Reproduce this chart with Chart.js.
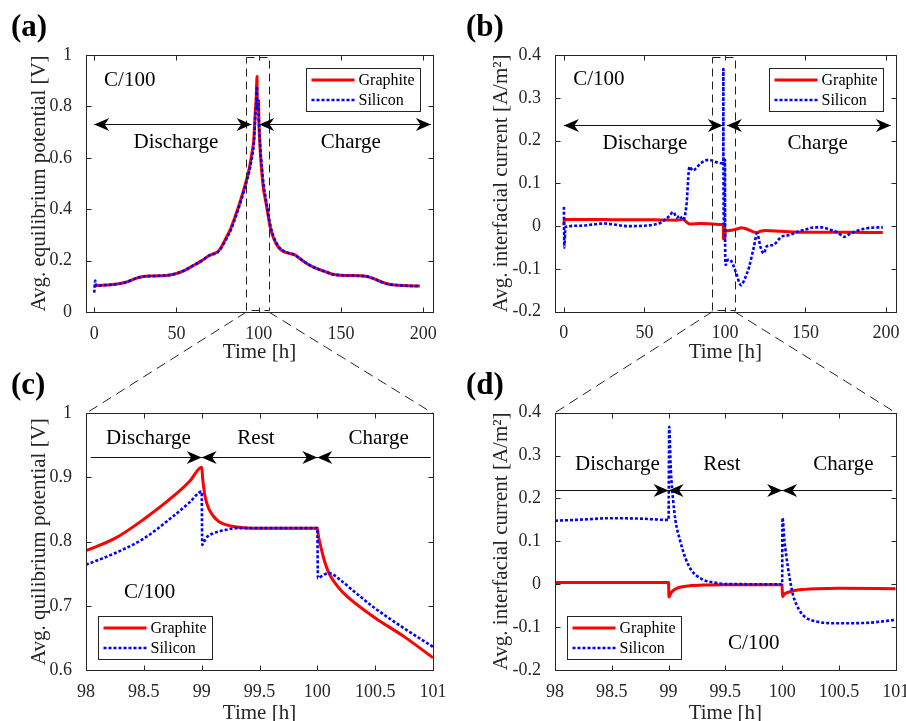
<!DOCTYPE html>
<html>
<head>
<meta charset="utf-8">
<script src="https://cdn.jsdelivr.net/npm/chart.js@4.4.1/dist/chart.umd.min.js"></script>
<style>
  body { margin: 0; background: #fff; }
  #wrap { position: relative; width: 906px; height: 721px; overflow: hidden; }
  #wrap canvas { position: absolute; }
  #links { pointer-events: none; }
</style>
</head>
<body>
<div id="wrap">
  <canvas id="panelA" width="453" height="372" style="left:0;top:0"></canvas>
  <canvas id="panelB" width="470" height="372" style="left:453px;top:0"></canvas>
  <canvas id="panelC" width="453" height="361" style="left:0;top:360px"></canvas>
  <canvas id="panelD" width="470" height="361" style="left:453px;top:360px"></canvas>
  <canvas id="links" width="906" height="721" style="left:0;top:0"></canvas>
</div>
<script>
// ---- full cycle (0-200 h) ----
const timeGraphiteEq = [0.5, 5, 10, 15, 20, 25, 30, 35, 40, 45, 50, 55, 60, 65, 70, 73, 75, 77, 80, 83,
  86, 89, 92, 94, 96, 97, 98, 98.5, 99, 99.03, 99.1, 99.3, 100, 100.03, 100.1, 100.3, 100.5, 101, 102, 103,
  104, 105, 107, 109, 112, 115, 118, 122, 125, 130, 135, 140, 145, 150, 155, 160, 165, 170, 175, 180,
  185, 190, 198];
const graphiteEq = [0.102, 0.104, 0.106, 0.110, 0.117, 0.130, 0.138, 0.140, 0.141, 0.143, 0.150, 0.162, 0.180, 0.198, 0.220, 0.228, 0.234, 0.250, 0.286, 0.325,
  0.377, 0.435, 0.500, 0.550, 0.623, 0.669, 0.786, 0.835, 0.916, 0.870, 0.840, 0.823, 0.821, 0.792, 0.751, 0.708, 0.681, 0.619, 0.535, 0.475,
  0.440, 0.405, 0.330, 0.288, 0.252, 0.236, 0.229, 0.222, 0.208, 0.186, 0.170, 0.158, 0.147, 0.143, 0.142, 0.141, 0.139, 0.130, 0.116, 0.107,
  0.104, 0.102, 0.101];

const timeSiliconEq = [0, 0.6, 1.2, 5, 10, 15, 20, 25, 30, 35, 40, 45, 50, 55, 60, 65, 70, 73, 75, 77,
  80, 83, 86, 89, 92, 94, 96, 97, 98, 98.5, 99, 99.01, 99.1, 99.3, 100, 100.01, 100.1, 100.3, 100.5, 101,
  102, 103, 104, 105, 107, 109, 112, 115, 118, 122, 125, 130, 135, 140, 145, 150, 155, 160, 165, 170,
  175, 180, 185, 190, 198];
const siliconEq = [0.075, 0.122, 0.102, 0.104, 0.106, 0.110, 0.117, 0.130, 0.138, 0.140, 0.141, 0.143, 0.150, 0.162, 0.180, 0.198, 0.220, 0.226, 0.232, 0.247,
  0.280, 0.318, 0.370, 0.428, 0.492, 0.540, 0.605, 0.650, 0.764, 0.805, 0.878, 0.795, 0.813, 0.821, 0.821, 0.743, 0.751, 0.725, 0.696, 0.636,
  0.560, 0.495, 0.455, 0.415, 0.340, 0.295, 0.256, 0.238, 0.230, 0.222, 0.208, 0.186, 0.170, 0.158, 0.147, 0.143, 0.142, 0.141, 0.139, 0.130,
  0.116, 0.107, 0.104, 0.102, 0.101];

const timeGraphiteCur = [0, 0.3, 10, 20, 30, 40, 50, 60, 70, 72, 74, 76, 78, 85, 92, 98, 99, 99.01, 99.1, 99.3,
  100, 100.01, 100.1, 100.5, 101, 105, 108, 110, 112, 115, 118, 120, 122, 125, 135, 150, 175, 198];
const graphiteCur = [0.002, 0.0155, 0.0155, 0.0155, 0.015, 0.015, 0.015, 0.0145, 0.014, 0.015, 0.016, 0.010, 0.005, 0.006, 0.005, 0.004, 0.004, -0.030, -0.007, -0.002,
  -0.001, -0.029, -0.015, -0.0095, -0.0105, -0.009, -0.006, -0.004, -0.005, -0.009, -0.014, -0.015, -0.012, -0.010, -0.012, -0.0145, -0.0145, -0.015];

const timeSiliconCur = [0, 0.3, 1, 10, 25, 40, 50, 60, 65, 68, 70, 72, 74, 76, 78, 80, 82, 85, 90, 95,
  98, 99, 99.005, 99.02, 99.06, 99.1, 99.2, 99.3, 99.5, 100, 100.003, 100.05, 100.1, 100.2, 100.5, 101, 103, 105, 107, 110,
  112, 115, 118, 120, 122, 124, 126, 130, 135, 140, 145, 150, 155, 160, 165, 170, 174, 178, 182, 188,
  195, 198];
const siliconCur = [0.045, -0.050, -0.002, 0.001, 0.006, 0.000, 0.001, 0.008, 0.022, 0.033, 0.020, 0.024, 0.014, 0.045, 0.139, 0.130, 0.135, 0.147, 0.155, 0.149,
  0.147, 0.150, 0.367, 0.266, 0.150, 0.103, 0.033, 0.011, 0.0005, 0.000, 0.155, 0.041, -0.029, -0.076, -0.091, -0.083, -0.078, -0.090, -0.110, -0.138,
  -0.126, -0.095, -0.048, -0.017, -0.048, -0.064, -0.047, -0.044, -0.025, -0.021, -0.013, -0.008, -0.003, -0.003, -0.008, -0.015, -0.025, -0.017, -0.011, -0.005,
  -0.003, -0.003];

// ---- close-up around the rest period (98-101 h) ----
const timeGraphiteEqZoom = [98, 98.25, 98.5, 98.75, 98.9, 99, 99.01, 99.03, 99.06, 99.1, 99.15, 99.2, 99.3, 99.5, 100, 100.01, 100.03, 100.06, 100.1, 100.2, 100.3, 100.5, 100.75, 101];
const graphiteEqZoom = [0.786, 0.805, 0.835, 0.870, 0.895, 0.916, 0.896, 0.870, 0.852, 0.840, 0.831, 0.827, 0.823, 0.821, 0.821, 0.808, 0.792, 0.771, 0.751, 0.725, 0.708, 0.681, 0.652, 0.619];

const timeSiliconEqZoom = [98, 98.25, 98.5, 98.75, 98.9, 99, 99.005, 99.02, 99.05, 99.1, 99.2, 99.3, 99.5, 100, 100.005, 100.05, 100.1, 100.2, 100.3, 100.5, 100.75, 101];
const siliconEqZoom = [0.764, 0.782, 0.805, 0.839, 0.862, 0.878, 0.795, 0.800, 0.808, 0.813, 0.818, 0.821, 0.821, 0.821, 0.743, 0.748, 0.751, 0.740, 0.725, 0.696, 0.665, 0.636];

const timeGraphiteCurZoom = [98, 98.5, 99, 99.003, 99.02, 99.05, 99.1, 99.2, 99.3, 99.5, 100, 100.003, 100.02, 100.05, 100.1, 100.2, 100.3, 100.5, 101];
const graphiteCurZoom = [0.004, 0.004, 0.004, -0.030, -0.021, -0.013, -0.007, -0.003, -0.002, -0.001, -0.001, -0.029, -0.023, -0.019, -0.015, -0.012, -0.0105, -0.0095, -0.0105];

const timeSiliconCurZoom = [98, 98.25, 98.5, 98.75, 99, 99.005, 99.02, 99.04, 99.06, 99.1, 99.15, 99.2, 99.3, 99.4, 99.5, 100, 100.003, 100.02, 100.05, 100.08, 100.1, 100.15, 100.2, 100.3, 100.5, 100.75, 101];
const siliconCurZoom = [0.148, 0.151, 0.154, 0.153, 0.150, 0.367, 0.266, 0.196, 0.150, 0.103, 0.060, 0.033, 0.011, 0.004, 0.0005, 0.000, 0.155, 0.103, 0.041, -0.006, -0.029, -0.060, -0.076, -0.087, -0.091, -0.090, -0.083];

// tick labels
const ticksTimeFull = [0, 50, 100, 150, 200];
const ticksTimeZoom = [98, 98.5, 99, 99.5, 100, 100.5, 101];
const ticksPotentialFull = [0, 0.2, 0.4, 0.6, 0.8, 1];
const ticksPotentialZoom = [0.6, 0.7, 0.8, 0.9, 1];
const ticksCurrent = [-0.2, -0.1, 0, 0.1, 0.2, 0.3, 0.4];

const seriesNames = ['Graphite', 'Silicon'];

const SERIF = "'Liberation Serif', 'Times New Roman', serif";
const AXIS_COLOR = '#262626';
const RED = '#ff0000';
const BLUE = '#0000ff';
const BLUE_DASH = [3, 2];

const pairs = (t, v) => t.map((x, i) => ({ x: x, y: v[i] }));

function drawHead(ctx, tipX, y, dir) {
  const len = 15, half = 6.5;
  ctx.beginPath();
  ctx.moveTo(tipX, y);
  ctx.lineTo(tipX - dir * len, y - half);
  ctx.lineTo(tipX - dir * len * 0.7, y);
  ctx.lineTo(tipX - dir * len, y + half);
  ctx.closePath();
  ctx.fill();
}

// box, inward ticks, arrows, notes and legend drawn on top of each panel
const panelDecor = {
  id: 'panelDecor',
  afterDraw(chart, args, opts) {
    const { ctx, chartArea: a, scales: { x, y } } = chart;
    ctx.save();

    // dashed zoom window
    if (opts.zoomBox) {
      const zb = opts.zoomBox;
      const x0 = Math.round(x.getPixelForValue(zb.x0)) + 0.5;
      const x1 = Math.round(x.getPixelForValue(zb.x1)) + 0.5;
      const y0 = Math.round(y.getPixelForValue(zb.y0)) + 0.5;
      const y1 = Math.round(y.getPixelForValue(zb.y1)) + 0.5;
      ctx.strokeStyle = '#222';
      ctx.lineWidth = 1;
      ctx.setLineDash([8, 5]);
      ctx.strokeRect(x0, y1, x1 - x0, y0 - y1);
      ctx.setLineDash([]);
    }

    // arrows
    ctx.strokeStyle = '#111';
    ctx.fillStyle = '#000';
    ctx.lineWidth = 1;
    (opts.arrows || []).forEach(ar => {
      const py = Math.round(y.getPixelForValue(ar.y)) + 0.5;
      const px0 = x.getPixelForValue(ar.x0);
      const px1 = x.getPixelForValue(ar.x1);
      ctx.beginPath();
      ctx.moveTo(px0, py);
      ctx.lineTo(px1, py);
      ctx.stroke();
      if (ar.start) drawHead(ctx, px0, py, -1);
      if (ar.end) drawHead(ctx, px1, py, 1);
    });

    // notes
    ctx.fillStyle = '#000';
    ctx.textBaseline = 'middle';
    ctx.font = '21px ' + SERIF;
    (opts.notes || []).forEach(n => {
      ctx.textAlign = n.align || 'center';
      ctx.fillText(n.text, x.getPixelForValue(n.x), y.getPixelForValue(n.y));
    });

    // legend
    const lg = opts.legend;
    const lw = 114, lh = 43;
    const lx = Math.round(lg.right !== undefined ? a.right - lg.right - lw : a.left + lg.left) + 0.5;
    const ly = Math.round(lg.bottom !== undefined ? a.bottom - lg.bottom - lh : a.top + lg.top) + 0.5;
    ctx.fillStyle = '#fff';
    ctx.fillRect(lx, ly, lw, lh);
    ctx.strokeStyle = AXIS_COLOR;
    ctx.lineWidth = 1;
    ctx.strokeRect(lx, ly, lw, lh);
    chart.data.datasets.forEach((ds, i) => {
      const ry = ly + 11.5 + i * 20;
      ctx.strokeStyle = ds.borderColor;
      ctx.lineWidth = ds.borderWidth;
      ctx.setLineDash(ds.borderDash || []);
      ctx.beginPath();
      ctx.moveTo(lx + 5, ry);
      ctx.lineTo(lx + 48, ry);
      ctx.stroke();
      ctx.setLineDash([]);
      ctx.fillStyle = '#000';
      ctx.font = '16px ' + SERIF;
      ctx.textAlign = 'left';
      ctx.fillText(ds.label, lx + 52, ry + 1);
    });

    // axes box with inward ticks on all four sides
    ctx.strokeStyle = AXIS_COLOR;
    ctx.lineWidth = 1;
    const L = Math.round(a.left) + 0.5, R = Math.round(a.right) + 0.5;
    const T = Math.round(a.top) + 0.5, B = Math.round(a.bottom) + 0.5;
    ctx.strokeRect(L, T, R - L, B - T);
    const tl = 5;
    ctx.beginPath();
    x.ticks.forEach(t => {
      const px = Math.round(x.getPixelForValue(t.value)) + 0.5;
      ctx.moveTo(px, B); ctx.lineTo(px, B - tl);
      ctx.moveTo(px, T); ctx.lineTo(px, T + tl);
    });
    y.ticks.forEach(t => {
      const py = Math.round(y.getPixelForValue(t.value)) + 0.5;
      ctx.moveTo(L, py); ctx.lineTo(L + tl, py);
      ctx.moveTo(R, py); ctx.lineTo(R - tl, py);
    });
    ctx.stroke();

    // panel letter
    ctx.fillStyle = '#000';
    ctx.font = 'bold 31px ' + SERIF;
    ctx.textAlign = 'left';
    ctx.textBaseline = 'middle';
    ctx.fillText(opts.letter.text, opts.letter.x, opts.letter.y);

    ctx.restore();
  }
};

function makePanel(id, p) {
  return new Chart(document.getElementById(id), {
    type: 'line',
    data: {
      datasets: [
        { label: seriesNames[0], data: pairs(p.gt, p.gv), borderColor: RED, borderWidth: 3, order: 1 },
        { label: seriesNames[1], data: pairs(p.st, p.sv), borderColor: BLUE, borderWidth: 2.6, borderDash: BLUE_DASH, order: 0 }
      ]
    },
    options: {
      responsive: false,
      animation: false,
      events: [],
      layout: { padding: { left: 0, top: p.padTop, right: p.padRight, bottom: 0 } },
      elements: {
        point: { radius: 0 },
        line: { cubicInterpolationMode: 'monotone', borderCapStyle: 'butt', borderJoinStyle: 'round' }
      },
      scales: {
        x: {
          type: 'linear',
          min: p.xMin, max: p.xMax,
          grid: { display: false },
          border: { display: false },
          afterBuildTicks: s => { s.ticks = p.xTicks.map(v => ({ value: v })); },
          afterFit: s => { s.height = p.xAxisH; },
          ticks: { padding: 3, color: AXIS_COLOR, font: { family: SERIF, size: 18 }, callback: v => String(v) },
          title: { display: true, text: 'Time [h]', color: AXIS_COLOR, padding: { top: 0, bottom: p.xTitlePad },
                   font: { family: SERIF, size: 21, lineHeight: 1 } }
        },
        y: {
          type: 'linear',
          min: p.yMin, max: p.yMax,
          grid: { display: false },
          border: { display: false },
          afterBuildTicks: s => { s.ticks = p.yTicks.map(v => ({ value: v })); },
          afterFit: s => { s.width = p.yAxisW; },
          ticks: { padding: 6, color: AXIS_COLOR, font: { family: SERIF, size: 18 }, callback: v => String(v) },
          title: { display: true, text: p.yTitle, color: AXIS_COLOR, padding: { top: p.yTitlePad, bottom: 0 },
                   font: { family: SERIF, size: 21, lineHeight: 1 } }
        }
      },
      plugins: {
        legend: { display: false },
        tooltip: { enabled: false },
        panelDecor: p.decor
      }
    },
    plugins: [panelDecor]
  });
}

const chartA = makePanel('panelA', {
  gt: timeGraphiteEq, gv: graphiteEq, st: timeSiliconEq, sv: siliconEq,
  xMin: -5, xMax: 206, xTicks: ticksTimeFull,
  yMin: 0, yMax: 1, yTicks: ticksPotentialFull,
  yTitle: 'Avg. equilibrium potential [V]',
  padTop: 55, padRight: 20, xAxisH: 60, yAxisW: 86, yTitlePad: 28.5, xTitlePad: 9,
  decor: {
    letter: { text: '(a)', x: 11, y: 28 },
    zoomBox: { x0: 92.5, x1: 106.2, y0: 0.008, y1: 0.991 },
    arrows: [
      { x0: 0, x1: 95.7, y: 0.73, start: true, end: true },
      { x0: 100.3, x1: 204.7, y: 0.73, start: true, end: true }
    ],
    notes: [
      { text: 'Discharge', x: 49.7, y: 0.658 },
      { text: 'Charge', x: 156, y: 0.658 },
      { text: 'C/100', x: 6, y: 0.9, align: 'left' }
    ],
    legend: { right: 13, top: 12.7 }
  }
});

const chartB = makePanel('panelB', {
  gt: timeGraphiteCur, gv: graphiteCur, st: timeSiliconCur, sv: siliconCur,
  xMin: -5.5, xMax: 206, xTicks: ticksTimeFull,
  yMin: -0.2, yMax: 0.4, yTicks: ticksCurrent,
  yTitle: 'Avg. interfacial current [A/m\u00B2]',
  padTop: 55, padRight: 27.3, xAxisH: 60.3, yAxisW: 102, yTitlePad: 38, xTitlePad: 9,
  decor: {
    letter: { text: '(b)', x: 13, y: 28 },
    zoomBox: { x0: 92.2, x1: 106, y0: -0.195, y1: 0.395 },
    arrows: [
      { x0: 0, x1: 98.7, y: 0.236, start: true, end: true },
      { x0: 101.2, x1: 203, y: 0.236, start: true, end: true }
    ],
    notes: [
      { text: 'Discharge', x: 50.3, y: 0.194 },
      { text: 'Charge', x: 157.6, y: 0.194 },
      { text: 'C/100', x: 5.8, y: 0.342, align: 'left' }
    ],
    legend: { right: 12.4, top: 12.7 }
  }
});

const chartC = makePanel('panelC', {
  gt: timeGraphiteEqZoom, gv: graphiteEqZoom, st: timeSiliconEqZoom, sv: siliconEqZoom,
  xMin: 98, xMax: 101, xTicks: ticksTimeZoom,
  yMin: 0.6, yMax: 1, yTicks: ticksPotentialZoom,
  yTitle: 'Avg. quilibrium potential [V]',
  padTop: 53.3, padRight: 20, xAxisH: 51, yAxisW: 86, yTitlePad: 28.5, xTitlePad: -3,
  decor: {
    letter: { text: '(c)', x: 11, y: 26 },
    arrows: [
      { x0: 98.04, x1: 99, y: 0.932, end: true },
      { x0: 99, x1: 100, y: 0.932, start: true, end: true },
      { x0: 100, x1: 100.98, y: 0.932, start: true }
    ],
    notes: [
      { text: 'Discharge', x: 98.54, y: 0.961 },
      { text: 'Rest', x: 99.47, y: 0.961 },
      { text: 'Charge', x: 100.53, y: 0.961 },
      { text: 'C/100', x: 98.55, y: 0.721 }
    ],
    legend: { left: 12.3, bottom: 11 }
  }
});

const chartD = makePanel('panelD', {
  gt: timeGraphiteCurZoom, gv: graphiteCurZoom, st: timeSiliconCurZoom, sv: siliconCurZoom,
  xMin: 98, xMax: 101, xTicks: ticksTimeZoom,
  yMin: -0.2, yMax: 0.4, yTicks: ticksCurrent,
  yTitle: 'Avg. interfacial current [A/m\u00B2]',
  padTop: 52.7, padRight: 27.3, xAxisH: 51, yAxisW: 102, yTitlePad: 38, xTitlePad: -3,
  decor: {
    letter: { text: '(d)', x: 13, y: 26 },
    arrows: [
      { x0: 98.0, x1: 99, y: 0.22, end: true },
      { x0: 99, x1: 100, y: 0.22, start: true, end: true },
      { x0: 100, x1: 100.97, y: 0.22, start: true }
    ],
    notes: [
      { text: 'Discharge', x: 98.55, y: 0.28 },
      { text: 'Rest', x: 99.47, y: 0.28 },
      { text: 'Charge', x: 100.54, y: 0.28 },
      { text: 'C/100', x: 99.75, y: -0.138 }
    ],
    legend: { left: 12.3, bottom: 11 }
  }
});

// dashed lines joining each zoom window to its close-up panel
function offsetOf(chart) {
  const c = chart.canvas;
  return { x: c.offsetLeft, y: c.offsetTop };
}
function drawLinks(src, dst) {
  const ctx = document.getElementById('links').getContext('2d');
  const so = offsetOf(src), doff = offsetOf(dst);
  const zb = src.options.plugins.panelDecor.zoomBox;
  const sx0 = so.x + src.scales.x.getPixelForValue(zb.x0);
  const sx1 = so.x + src.scales.x.getPixelForValue(zb.x1);
  const sy = so.y + src.chartArea.bottom;
  const dy = doff.y + dst.chartArea.top;
  ctx.save();
  ctx.strokeStyle = '#222';
  ctx.lineWidth = 1;
  ctx.setLineDash([10, 6]);
  ctx.beginPath();
  ctx.moveTo(sx0, sy); ctx.lineTo(doff.x + dst.chartArea.left, dy);
  ctx.moveTo(sx1, sy); ctx.lineTo(doff.x + dst.chartArea.right, dy);
  ctx.stroke();
  ctx.restore();
}
drawLinks(chartA, chartC);
drawLinks(chartB, chartD);
</script>
</body>
</html>
